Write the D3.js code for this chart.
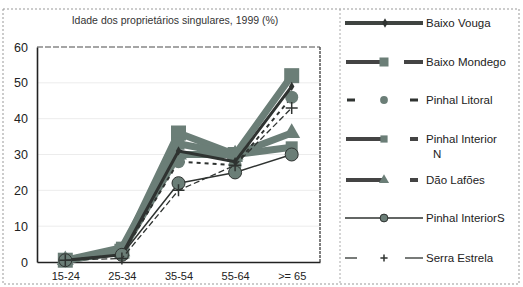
<!DOCTYPE html>
<html>
<head>
<meta charset="utf-8">
<script src="https://cdn.jsdelivr.net/npm/d3@7"></script>
<style>
  body { margin: 0; background: #fff; }
  svg { display: block; font-family: "Liberation Sans", Arial, sans-serif; }
</style>
</head>
<body>
<svg id="chart" width="523" height="287"></svg>
<script>
// categories and values
var ageGroups = ['15-24', '25-34', '35-54', '55-64', '>= 65'];
var seriesNames = ['Baixo Vouga', 'Baixo Mondego', 'Pinhal Litoral', 'Pinhal Interior\nN',
  'Dão Lafões', 'Pinhal InteriorS', 'Serra Estrela'];
var baixoVouga = [0.5, 2, 31, 28, 49];
var baixoMondego = [0.5, 3, 36, 30, 52];
var pinhalLitoral = [0.5, 2, 28, 27, 46];
var pinhalInteriorN = [0.5, 4, 33, 30, 32];
var daoLafoes = [0.5, 3, 30, 30, 36];
var pinhalInteriorS = [0.5, 2, 22, 25, 30];
var serraEstrela = [0.5, 1, 20, 27, 43];
var yTicks = [0, 10, 20, 30, 40, 50, 60];
var title = 'Idade dos proprietários singulares, 1999 (%)';

var GRAY = '#6b7e77', DARK = '#2f3331';

// how each series was drawn (line, marker)
var styles = [
  {stroke: DARK, width: 3, dash: null, marker: 'diamond', msize: 6, mfill: DARK},
  {stroke: GRAY, width: 7, dash: null, marker: 'square', msize: 15, mfill: GRAY},
  {stroke: DARK, width: 2, dash: '4,4', marker: 'circle', msize: 13, mfill: GRAY},
  {stroke: GRAY, width: 7, dash: null, marker: 'square', msize: 12, mfill: GRAY},
  {stroke: GRAY, width: 7, dash: null, marker: 'triangle', msize: 15, mfill: GRAY},
  {stroke: DARK, width: 1.5, dash: null, marker: 'circle', msize: 13, mfill: GRAY},
  {stroke: DARK, width: 1.3, dash: '6,3', marker: 'cross', msize: 12, mfill: DARK}
];
var values = [baixoVouga, baixoMondego, pinhalLitoral, pinhalInteriorN, daoLafoes, pinhalInteriorS, serraEstrela];

var svg = d3.select('#chart');

// outer frame of the scanned figure
svg.append('rect')
  .attr('x', 3).attr('y', 9).attr('width', 516).attr('height', 275)
  .attr('fill', 'none').attr('stroke', '#999').attr('stroke-dasharray', '2,2');

var x = d3.scalePoint().domain(ageGroups).range([37, 320]).padding(0.5);
var y = d3.scaleLinear().domain([0, 60]).range([262, 47]);

// gridlines
svg.append('g').selectAll('line').data(yTicks.slice(1, -1)).join('line')
  .attr('x1', 37).attr('x2', 320)
  .attr('y1', function(d) {return y(d);}).attr('y2', function(d) {return y(d);})
  .attr('stroke', '#ececec').attr('stroke-width', 1);

// plot frame
svg.append('line').attr('x1', 37).attr('x2', 320).attr('y1', y(60)).attr('y2', y(60))
  .attr('stroke', '#888').attr('stroke-width', 1.5).attr('stroke-dasharray', '6,2');
svg.append('line').attr('x1', 320).attr('x2', 320).attr('y1', y(60)).attr('y2', y(0))
  .attr('stroke', '#555').attr('stroke-width', 1.5).attr('stroke-dasharray', '3,1');

var yAxis = svg.append('g').attr('transform', 'translate(37,0)')
  .call(d3.axisLeft(y).tickValues(yTicks).tickSize(0).tickPadding(9));
yAxis.select('.domain').attr('stroke', '#222').attr('stroke-width', 1.6);
yAxis.selectAll('text').attr('font-size', 12.5).attr('fill', '#222');

var xAxis = svg.append('g').attr('transform', 'translate(0,262)')
  .call(d3.axisBottom(x).tickSize(0).tickPadding(10));
xAxis.select('.domain').attr('stroke', '#222').attr('stroke-width', 1.6);
xAxis.selectAll('text').attr('font-size', 11).attr('fill', '#222');

svg.append('text').attr('x', 175).attr('y', 24).attr('text-anchor', 'middle')
  .attr('font-size', 10.5).attr('fill', '#333').text(title);

function drawMarker(g, st, cx, cy, scale) {
  var s = st.msize * (scale || 1);
  if ('square' === st.marker) {
    g.append('rect').attr('x', cx - s / 2).attr('y', cy - s / 2).attr('width', s).attr('height', s)
      .attr('fill', st.mfill);}
  else if ('circle' === st.marker) {
    g.append('circle').attr('cx', cx).attr('cy', cy).attr('r', s / 2)
      .attr('fill', st.mfill).attr('stroke', st.stroke === DARK && st.width < 2 ? DARK : 'none');}
  else if ('triangle' === st.marker) {
    g.append('path').attr('d', d3.symbol(d3.symbolTriangle, s * s * 0.55)())
      .attr('transform', 'translate(' + cx + ',' + cy + ')').attr('fill', st.mfill);}
  else if ('diamond' === st.marker) {
    g.append('path').attr('d', d3.symbol(d3.symbolDiamond, s * s * 0.7)())
      .attr('transform', 'translate(' + cx + ',' + cy + ')').attr('fill', st.mfill);}
  else if ('cross' === st.marker) {
    g.append('path').attr('d', 'M' + (cx - s / 2) + ',' + cy + 'H' + (cx + s / 2) +
      'M' + cx + ',' + (cy - s / 2) + 'V' + (cy + s / 2))
      .attr('stroke', st.mfill).attr('stroke-width', 1.5);}
}

var line = d3.line()
  .x(function(d, i) {return x(ageGroups[i]);})
  .y(function(d) {return y(d);});

// gray heavy series first, dark thin ones on top
var order = [1, 3, 4, 2, 0, 5, 6];
var plot = svg.append('g');
order.forEach(function(k) {
  var st = styles[k];
  var g = plot.append('g');
  g.append('path').datum(values[k]).attr('d', line)
    .attr('fill', 'none').attr('stroke', st.stroke).attr('stroke-width', st.width)
    .attr('stroke-linejoin', 'round')
    .attr('stroke-dasharray', st.dash);
  values[k].forEach(function(v, i) {drawMarker(g, st, x(ageGroups[i]), y(v));});
});

// legend
var legend = svg.append('g');
legend.append('line').attr('x1', 340).attr('x2', 340).attr('y1', 9).attr('y2', 284)
  .attr('stroke', '#aaa').attr('stroke-dasharray', '2,2');
var legendY = [23, 62, 100, 139, 180, 218, 258];
seriesNames.forEach(function(name, k) {
  var st = styles[k], ly = legendY[k];
  var g = legend.append('g');
  var lw = Math.min(st.width, 4);
  if (k === 0 || k === 5) {
    g.append('line').attr('x1', 345).attr('x2', 423).attr('y1', ly).attr('y2', ly)
      .attr('stroke', k === 0 ? '#3f4441' : DARK).attr('stroke-width', k === 0 ? 4 : 1.5);}
  else if (k === 6) {
    g.append('line').attr('x1', 345).attr('x2', 357).attr('y1', ly).attr('y2', ly)
      .attr('stroke', DARK).attr('stroke-width', 1.3);
    g.append('line').attr('x1', 405).attr('x2', 423).attr('y1', ly).attr('y2', ly)
      .attr('stroke', DARK).attr('stroke-width', 1.3);}
  else if (k === 2) {
    g.append('line').attr('x1', 347).attr('x2', 355).attr('y1', ly).attr('y2', ly)
      .attr('stroke', DARK).attr('stroke-width', 3);
    g.append('line').attr('x1', 410).attr('x2', 418).attr('y1', ly).attr('y2', ly)
      .attr('stroke', DARK).attr('stroke-width', 3);}
  else {
    g.append('line').attr('x1', 346).attr('x2', 382).attr('y1', ly).attr('y2', ly)
      .attr('stroke', '#444').attr('stroke-width', lw);
    g.append('line').attr('x1', k === 1 ? 404 : 410).attr('x2', k === 1 ? 423 : 418)
      .attr('y1', ly).attr('y2', ly)
      .attr('stroke', '#444').attr('stroke-width', lw);}
  drawMarker(g, st, k === 0 ? 385 : 384, ly, k === 0 ? 1 : 0.6);
  var t = g.append('text').attr('x', 425).attr('y', ly + 4)
    .attr('font-size', 11.5).attr('fill', '#222');
  name.split('\n').forEach(function(part, j) {
    t.append('tspan').attr('x', j ? 433 : 426).attr('dy', j ? 15 : 0).text(part);});
});
</script>
</body>
</html>
